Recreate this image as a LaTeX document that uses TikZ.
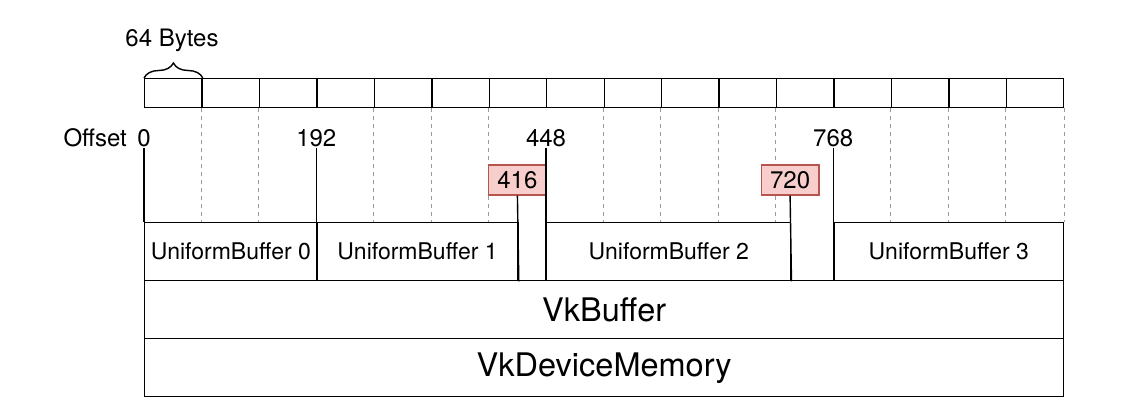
\documentclass[tikz,border=0pt]{standalone}
\usepackage{fontspec}
\setmainfont{TeX Gyre Heros}
\usepackage{tikz}
\usetikzlibrary{arrows}
\usetikzlibrary{decorations.pathreplacing}
\definecolor{markfill}{HTML}{F8CECC}
\definecolor{markline}{HTML}{B85450}
\definecolor{gridline}{HTML}{9A9A9A}
\tikzstyle{cell} = [
  draw,
  rectangle,
  line width=1.4pt,
  minimum width=57.4375pt,
  minimum height=29pt,
  inner sep=0pt,
  anchor=north west,
]
\tikzstyle{ubuf} = [
  draw,
  rectangle,
  line width=1.4pt,
  minimum height=58pt,
  inner sep=0pt,
  anchor=north west,
  font=\fontsize{23pt}{26pt}\selectfont,
]
\tikzstyle{layer} = [
  draw,
  rectangle,
  line width=1.4pt,
  minimum width=919pt,
  minimum height=58pt,
  inner sep=0pt,
  anchor=north west,
  font=\fontsize{32.5pt}{36pt}\selectfont,
]
\tikzstyle{offset} = [
  inner sep=1pt,
  font=\fontsize{24pt}{28pt}\selectfont,
]
\tikzstyle{marker} = [
  draw=markline,
  fill=markfill,
  rectangle,
  line width=1.4pt,
  minimum width=57.4375pt,
  minimum height=30pt,
  inner sep=0pt,
  font=\fontsize{24pt}{28pt}\selectfont,
]
\tikzstyle{grid} = [
  draw=gridline,
  line width=1pt,
  dash pattern=on 4pt off 4pt,
]
\tikzstyle{tick} = [
  draw,
  line width=1.4pt,
]

\begin{document}
\begin{tikzpicture}[
    x=1pt,
    y=-1pt,
  ]
  \useasboundingbox (0,0) rectangle (1144,418);
  % row of 64 byte blocks
  \foreach \i in {0,...,15} {
    \node[cell] (c\i) at ({144+\i*57.4375},78) {};
  }
  \draw[
    line width=1.4pt,
    decorate,
    decoration={brace, amplitude=15pt},
  ] (c0.north west) -- (c0.north east);
  \node[offset] (bytes) at (172,40) {64 Bytes};

  % buffers
  \node[ubuf, minimum width=172.31pt] (ub0) at (144,222) {UniformBuffer 0};
  \node[ubuf, minimum width=201.10pt] (ub1) at (316.31,222) {UniformBuffer 1};
  \node[ubuf, minimum width=244.03pt] (ub2) at (546.06,222) {UniformBuffer 2};
  \node[ubuf, minimum width=229.75pt] (ub3) at (833.25,222) {UniformBuffer 3};
  \node[layer] (vkbuf) at (144,280) {VkBuffer};
  \node[layer] (vkmem) at (144,338) {VkDeviceMemory};

  % block borders
  \foreach \i in {1,2,4,5,6,8,9,10,11,13,14,15} {
    \draw[grid] (c\i.south west) -- (c\i.south west |- ub0.north);
  }
  \draw[grid] (c15.south east) -- (c15.south east |- ub0.north);

  % offsets
  \node[offset] (o0) at (144,138) {0};
  \node[offset, anchor=east] (label) at (128,138) {Offset};
  \node[offset] (o192) at (316.31,138) {192};
  \node[offset] (o448) at (546.06,138) {448};
  \node[offset] (o768) at (833.25,138) {768};
  \node[marker] (m416) at (517.41,180) {416};
  \node[marker] (m720) at (790.09,180) {720};

  \draw[tick] (o0.south) -- (ub0.north west);
  \draw[tick] (o192.south) -- (ub1.north west);
  \draw[tick] (m416.south) -- (ub1.south east);
  \draw[tick] (o448.south) -- (ub2.south west);
  \draw[tick] (m720.south) -- (ub2.south east);
  \draw[tick] (o768.south) -- (ub3.south west);
\end{tikzpicture}
\end{document}
